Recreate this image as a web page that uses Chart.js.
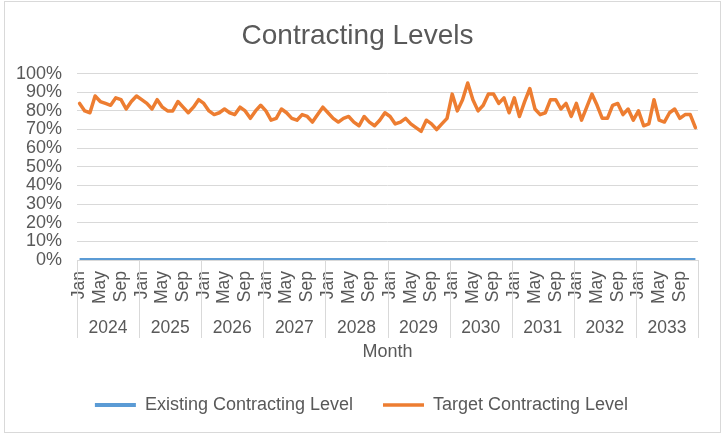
<!DOCTYPE html>
<html>
<head>
<meta charset="utf-8">
<script src="https://cdn.jsdelivr.net/npm/chart.js@4.4.1/dist/chart.umd.min.js"></script>
<style>
html,body{margin:0;padding:0;background:#fff;}
#wrap{position:relative;width:725px;height:437px;}
</style>
</head>
<body>
<div id="wrap"><canvas id="c" width="725" height="437"></canvas></div>
<script>
const years = ['2024','2025','2026','2027','2028','2029','2030','2031','2032','2033'];
const monthNames = ['Jan','Feb','Mar','Apr','May','Jun','Jul','Aug','Sep','Oct','Nov','Dec'];
const yTickValues = [0,10,20,30,40,50,60,70,80,90,100];

const existing = [
  0,0,0,0,0,0,0,0,0,0,0,0,
  0,0,0,0,0,0,0,0,0,0,0,0,
  0,0,0,0,0,0,0,0,0,0,0,0,
  0,0,0,0,0,0,0,0,0,0,0,0,
  0,0,0,0,0,0,0,0,0,0,0,0,
  0,0,0,0,0,0,0,0,0,0,0,0,
  0,0,0,0,0,0,0,0,0,0,0,0,
  0,0,0,0,0,0,0,0,0,0,0,0,
  0,0,0,0,0,0,0,0,0,0,0,0,
  0,0,0,0,0,0,0,0,0,0,0,0
];
const target = [
  84,80,79,88,85,84,83,87,86,81,85,88,
  86,84,81,86,82,80,80,85,82,79,82,86,
  84,80,78,79,81,79,78,82,80,76,80,83,
  80,75,76,81,79,76,75,78,77,74,78,82,
  79,76,74,76,77,74,72,77,74,72,75,79,
  77,73,74,76,73,71,69,75,73,70,73,76,
  89,80,86,95,86,80,83,89,89,84,87,79,
  87,77,85,92,81,78,79,86,86,81,84,77,
  84,75,82,89,83,76,76,83,84,78,81,75,
  80,72,73,86,75,74,79,81,76,78,78,71
];

const categories = [];
years.forEach(y => monthNames.forEach(m => categories.push(m + ' ' + y)));

const FONT = "'Liberation Sans', Arial, sans-serif";
const TXT = '#595959';
const GRID = '#d9d9d9';

const framePlugin = {
  id: 'frame',
  beforeDraw(chart) {
    const ctx = chart.ctx;
    ctx.save();
    ctx.fillStyle = '#ffffff';
    ctx.fillRect(0, 0, chart.width, chart.height);
    ctx.strokeStyle = GRID;
    ctx.lineWidth = 1;
    ctx.strokeRect(4.5, 1.5, 716, 431);
    ctx.restore();
  }
};

const legendShiftPlugin = {
  id: 'legendShift',
  afterLayout(chart) {
    if (chart.legend) {
      chart.legend.left += 4;
      chart.legend.right += 4;
    }
  }
};

const dividerPlugin = {
  id: 'dividers',
  beforeDatasetsDraw(chart) {
    const x2 = chart.scales.x2;
    const ctx = chart.ctx;
    const yTop = chart.chartArea.bottom;
    const yEnd = x2.top + 32;
    ctx.save();
    ctx.strokeStyle = GRID;
    ctx.lineWidth = 1;
    for (let k = 0; k <= years.length; k++) {
      const px = Math.round(x2.getPixelForValue(k - 0.5)) + 0.5;
      ctx.beginPath();
      ctx.moveTo(px, yTop);
      ctx.lineTo(px, yEnd);
      ctx.stroke();
    }
    ctx.restore();
  }
};

new Chart(document.getElementById('c'), {
  type: 'line',
  data: {
    labels: categories,
    datasets: [
      {
        label: 'Existing Contracting Level',
        data: existing,
        borderColor: '#5b9bd5',
        backgroundColor: '#5b9bd5',
        borderWidth: 4,
        pointRadius: 0,
        tension: 0,
        xAxisID: 'x',
        yAxisID: 'y'
      },
      {
        label: 'Target Contracting Level',
        data: target,
        borderColor: '#ed7d31',
        backgroundColor: '#ed7d31',
        borderWidth: 3.5,
        borderJoinStyle: 'round',
        borderCapStyle: 'round',
        pointRadius: 0,
        tension: 0,
        xAxisID: 'x',
        yAxisID: 'y'
      }
    ]
  },
  options: {
    responsive: false,
    devicePixelRatio: 1,
    animation: false,
    layout: { padding: { left: 17, right: 27, top: 0, bottom: 13 } },
    plugins: {
      title: {
        display: true,
        text: 'Contracting Levels',
        color: TXT,
        font: { family: FONT, size: 28, weight: 'normal' },
        padding: { top: 19, bottom: 21 }
      },
      legend: {
        position: 'bottom',
        labels: {
          usePointStyle: true,
          pointStyle: 'line',
          pointStyleWidth: 41,
          padding: 30,
          color: TXT,
          font: { family: FONT, size: 18 }
        }
      },
      tooltip: { enabled: false }
    },
    scales: {
      x: {
        type: 'category',
        offset: true,
        grid: { display: false },
        border: { display: false },
        afterFit: function (scale) { scale.height = 46; },
        ticks: {
          autoSkip: false,
          maxRotation: 90,
          minRotation: 90,
          padding: 3,
          color: TXT,
          font: { family: FONT, size: 17.5 },
          callback: function (v, i) { return i % 4 === 0 ? monthNames[i % 12] : ''; }
        }
      },
      x2: {
        type: 'category',
        labels: years,
        offset: true,
        position: 'bottom',
        grid: { display: false },
        border: { display: false },
        afterFit: function (scale) { scale.height = 60; },
        ticks: { padding: 3.5, color: TXT, font: { family: FONT, size: 17.5 } },
        title: {
          display: true,
          text: 'Month',
          color: TXT,
          font: { family: FONT, size: 18 },
          padding: { top: 0, bottom: 3 }
        }
      },
      y: {
        min: 0,
        max: 100,
        afterBuildTicks: function (scale) { scale.ticks = yTickValues.map(v => ({ value: v })); },
        afterFit: function (scale) { scale.width = 60; },
        ticks: {
          autoSkip: false,
          padding: 15,
          color: TXT,
          font: { family: FONT, size: 18 },
          callback: function (v) { return v + '%'; }
        },
        grid: { color: GRID, drawTicks: false },
        border: { display: false }
      }
    }
  },
  plugins: [framePlugin, legendShiftPlugin, dividerPlugin]
});
</script>
</body>
</html>
